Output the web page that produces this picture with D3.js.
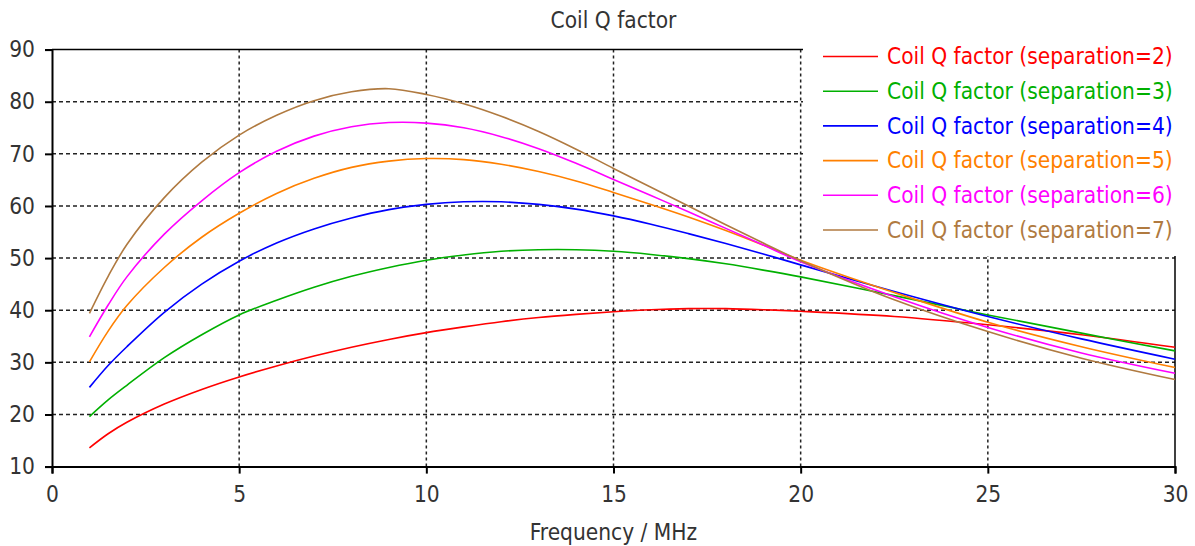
<!DOCTYPE html>
<html>
<head>
<meta charset="utf-8">
<script src="https://cdn.jsdelivr.net/npm/d3@7"></script>
<style>
  body { margin: 0; background: #fff; }
  text { font-family: "DejaVu Sans Condensed", "DejaVu Sans", sans-serif; }
</style>
</head>
<body>
<script>
var w = 1195,
    h = 546;

var freq = [1, 1.5, 2, 3, 4, 5, 6, 7, 8, 9, 10, 11, 12, 13, 14, 15, 16, 17, 18, 19, 20, 22.5, 25, 27.5, 30];

// Q factor for each separation
var sep2 = [13.6, 16.3, 18.5, 22.0, 24.8, 27.2, 29.3, 31.2, 32.9, 34.4, 35.7, 36.8, 37.8, 38.6, 39.2, 39.7, 40.1, 40.3, 40.3, 40.1, 39.8, 38.8, 37.2, 35.3, 32.9];
var sep3 = [19.6, 22.8, 25.6, 30.9, 35.3, 39.1, 41.9, 44.4, 46.5, 48.2, 49.6, 50.6, 51.3, 51.6, 51.6, 51.3, 50.7, 49.9, 48.9, 47.7, 46.4, 42.8, 39.1, 35.6, 32.2];
var sep4 = [25.2, 29.4, 33.0, 39.6, 45.0, 49.4, 52.9, 55.6, 57.7, 59.3, 60.3, 60.8, 60.8, 60.3, 59.4, 58.1, 56.5, 54.7, 52.8, 50.8, 48.7, 43.6, 38.8, 34.5, 30.6];
var sep5 = [30.1, 36.0, 40.9, 48.2, 54.0, 58.6, 62.4, 65.3, 67.4, 68.6, 69.1, 68.9, 68.0, 66.6, 64.8, 62.6, 60.3, 57.9, 55.3, 52.5, 49.6, 43.4, 37.7, 33.0, 29.0];
var sep6 = [34.9, 41.0, 46.4, 54.6, 61.0, 66.4, 70.5, 73.4, 75.2, 76.0, 75.9, 75.0, 73.3, 71.0, 68.2, 65.1, 62.0, 58.9, 55.7, 52.5, 49.3, 42.6, 36.7, 31.8, 27.9];
var sep7 = [39.4, 46.5, 52.6, 61.6, 68.4, 73.6, 77.4, 80.2, 81.9, 82.5, 81.4, 79.6, 77.2, 74.3, 70.9, 67.2, 63.6, 60.0, 56.4, 52.9, 49.5, 42.0, 35.9, 30.8, 26.7];

var seriesNames = ["Coil Q factor (separation=2)", "Coil Q factor (separation=3)",
                   "Coil Q factor (separation=4)", "Coil Q factor (separation=5)",
                   "Coil Q factor (separation=6)", "Coil Q factor (separation=7)"];
var seriesColors = ["#ff0000", "#00b000", "#0000ff", "#ff8000", "#ff00ff", "#b07a40"];
var seriesValues = [sep2, sep3, sep4, sep5, sep6, sep7];

var xTicks = [0, 5, 10, 15, 20, 25, 30];
var yTicks = [10, 20, 30, 40, 50, 60, 70, 80, 90];

// plot area (not named "top": that is window.top)
var plotLeft = 52, plotRight = 1175, plotTop = 49.6, plotBottom = 466.6;
var fontSize = "22.5px";

var x = d3.scaleLinear().domain([0, 30]).range([plotLeft, plotRight]);
var y = d3.scaleLinear().domain([10, 90]).range([plotBottom, plotTop]);

var svg = d3.select("body").append("svg")
    .attr("width", w)
    .attr("height", h);

// grid lines
svg.append("g")
    .selectAll("line")
    .data(yTicks.slice(1, -1))
    .enter().append("line")
    .attr("x1", plotLeft).attr("x2", plotRight)
    .attr("y1", function(d) { return y(d); })
    .attr("y2", function(d) { return y(d); })
    .attr("stroke", "#222")
    .attr("stroke-width", 1.5)
    .attr("stroke-dasharray", "4,3");

svg.append("g")
    .selectAll("line")
    .data(xTicks.slice(1, -1))
    .enter().append("line")
    .attr("y1", plotTop).attr("y2", plotBottom)
    .attr("x1", function(d) { return x(d); })
    .attr("x2", function(d) { return x(d); })
    .attr("stroke", "#222")
    .attr("stroke-width", 1.5)
    .attr("stroke-dasharray", "3,3");

// frame (top and right)
svg.append("line")
    .attr("x1", plotLeft).attr("x2", plotRight)
    .attr("y1", plotTop).attr("y2", plotTop)
    .attr("stroke", "#000").attr("stroke-width", 1.5);
svg.append("line")
    .attr("x1", plotRight).attr("x2", plotRight)
    .attr("y1", plotTop).attr("y2", plotBottom)
    .attr("stroke", "#000").attr("stroke-width", 1.5);

// curves
var line = d3.line()
    .x(function(d) { return x(d[0]); })
    .y(function(d) { return y(d[1]); })
    .curve(d3.curveCatmullRom.alpha(0.5));

seriesValues.forEach(function(vals, i) {
    svg.append("path")
        .datum(freq.map(function(f, j) { return [f, vals[j]]; }))
        .attr("fill", "none")
        .attr("stroke", seriesColors[i])
        .attr("stroke-width", 1.6)
        .attr("d", line);
});

// axes
var xAxis = svg.append("g")
    .attr("transform", "translate(0," + plotBottom + ")")
    .call(d3.axisBottom(x).tickValues(xTicks).tickSize(7).tickPadding(12));
var yAxis = svg.append("g")
    .attr("transform", "translate(" + plotLeft + ",0)")
    .call(d3.axisLeft(y).tickValues(yTicks).tickSize(7).tickPadding(10));

[xAxis, yAxis].forEach(function(a) {
    a.select(".domain").attr("stroke", "#000").attr("stroke-width", 2);
    a.selectAll(".tick line").attr("stroke", "#000").attr("stroke-width", 2);
    a.selectAll(".tick text")
        .attr("fill", "#333")
        .style("font-size", fontSize)
        .style("font-family", "'DejaVu Sans Condensed', 'DejaVu Sans', sans-serif");
});

// legend, white box over the top right corner
svg.append("rect")
    .attr("x", 803).attr("y", 0)
    .attr("width", w - 803).attr("height", 256)
    .attr("fill", "#fff");

var legend = svg.append("g")
    .selectAll("g")
    .data(seriesNames)
    .enter().append("g")
    .attr("transform", function(d, i) { return "translate(0," + (56.5 + i * 34.7) + ")"; });

legend.append("line")
    .attr("x1", 823).attr("x2", 878)
    .attr("y1", 0).attr("y2", 0)
    .attr("stroke", function(d, i) { return seriesColors[i]; })
    .attr("stroke-width", 1.6);

legend.append("text")
    .attr("x", 887)
    .attr("y", 0)
    .attr("dy", "0.35em")
    .attr("fill", function(d, i) { return seriesColors[i]; })
    .style("font-size", fontSize)
    .text(function(d) { return d; });

// titles
svg.append("text")
    .attr("x", (plotLeft + plotRight) / 2)
    .attr("y", 28)
    .attr("text-anchor", "middle")
    .attr("fill", "#333")
    .style("font-size", fontSize)
    .text("Coil Q factor");

svg.append("text")
    .attr("x", (plotLeft + plotRight) / 2)
    .attr("y", 540)
    .attr("text-anchor", "middle")
    .attr("fill", "#333")
    .style("font-size", fontSize)
    .text("Frequency / MHz");
</script>
</body>
</html>
